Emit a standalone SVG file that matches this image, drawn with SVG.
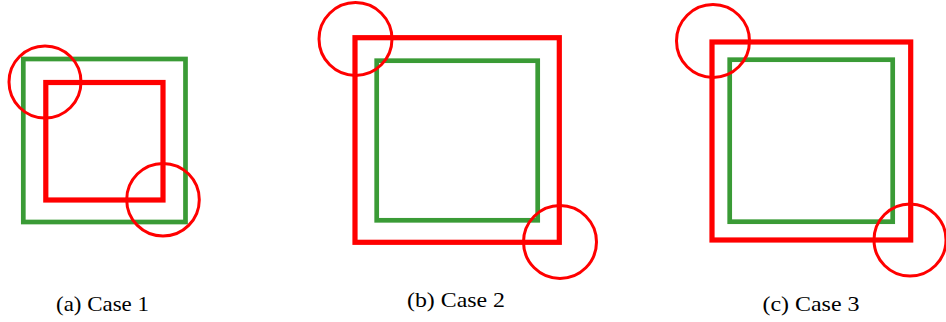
<svg xmlns="http://www.w3.org/2000/svg" width="946" height="322" viewBox="0 0 946 322">
<style>
.g{fill:none;stroke:#3a9b36;stroke-width:4.7}
.r{fill:none;stroke:#ff0000;stroke-width:5.2}
.c{fill:none;stroke:#ff0000;stroke-width:3}
.t{font-family:"Liberation Serif","Times New Roman",serif;font-size:21px;fill:#000;text-anchor:middle}
</style>
<rect width="946" height="322" fill="#fff"/>
<g id="case1">
<rect class="g" x="23.3" y="59" width="162.2" height="163"/>
<rect class="r" x="45.8" y="82.5" width="117.2" height="117.5"/>
<circle class="c" cx="45" cy="82" r="36"/>
<circle class="c" cx="163" cy="199.7" r="36.3"/>
<text class="t" x="102.5" y="311" textLength="93" lengthAdjust="spacingAndGlyphs">(a) Case 1</text>
</g>
<g id="case2">
<rect class="r" x="355" y="37.7" width="204.3" height="204.6"/>
<rect class="g" x="376.7" y="60.7" width="161" height="159.6"/>
<circle class="c" cx="355.5" cy="39" r="36.5"/>
<circle class="c" cx="560" cy="242" r="36.5"/>
<text class="t" x="456" y="307" textLength="98" lengthAdjust="spacingAndGlyphs">(b) Case 2</text>
</g>
<g id="case3">
<rect class="r" x="712" y="42" width="198.7" height="198"/>
<rect class="g" x="729.7" y="59.7" width="163" height="162"/>
<circle class="c" cx="713" cy="41" r="36.5"/>
<circle class="c" cx="910" cy="240" r="36"/>
<text class="t" x="811" y="311" textLength="97" lengthAdjust="spacingAndGlyphs">(c) Case 3</text>
</g>
</svg>
